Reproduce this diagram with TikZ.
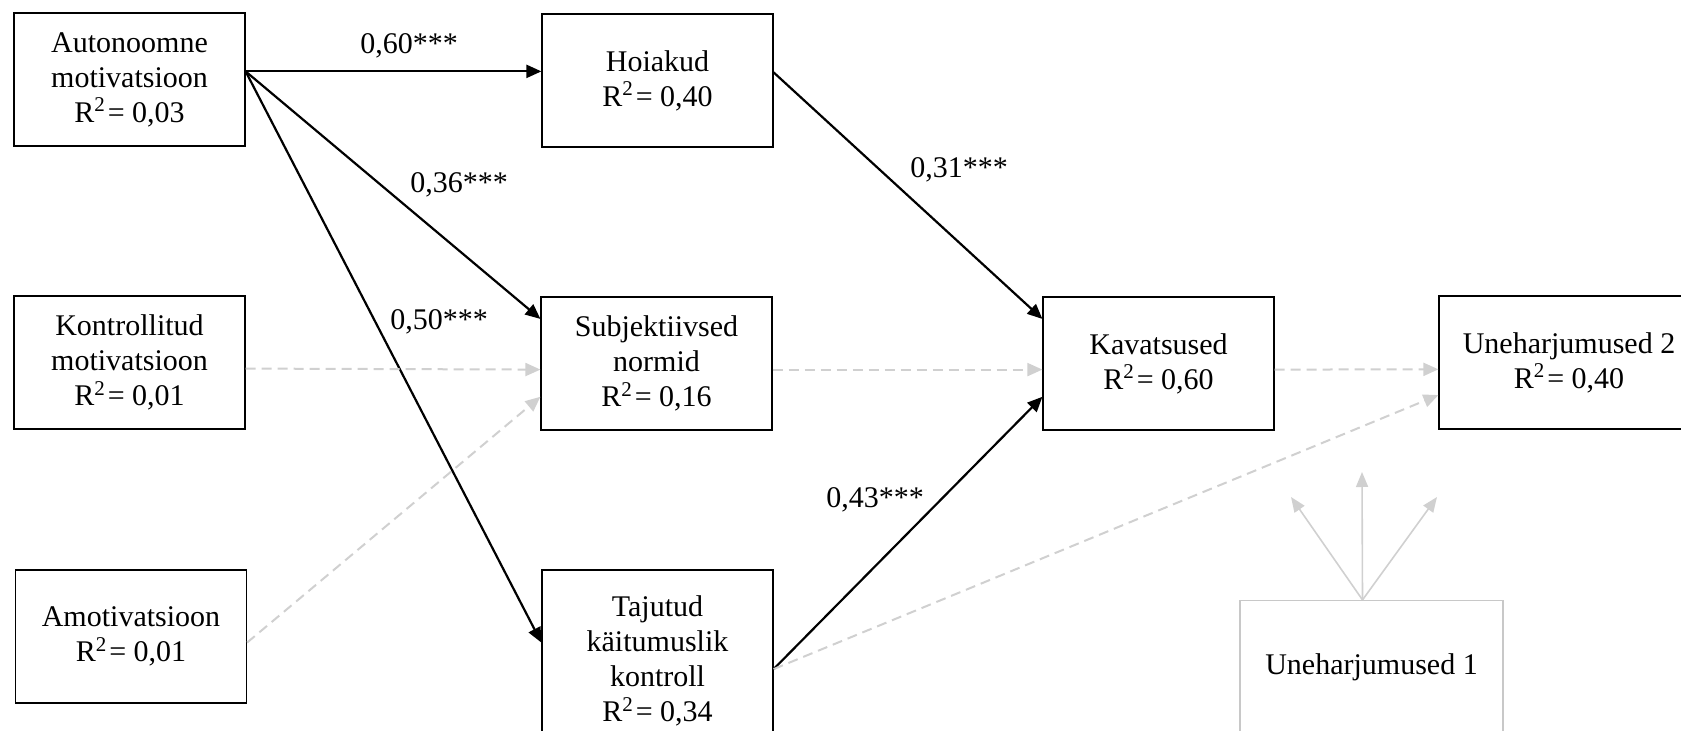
\documentclass[tikz,border=0pt]{standalone}
\usepackage{fontspec}
\setmainfont{Liberation Serif}
\usetikzlibrary{arrows.meta, calc}

\definecolor{nsgray}{RGB}{208,208,208}
\definecolor{boxgray}{RGB}{200,200,200}

\tikzset{
	box/.style={draw, line width=0.6pt, align=center, inner sep=0pt,
		minimum width=115.5pt, minimum height=66.5pt,
		font=\fontsize{15}{17.5}\selectfont},
	sig/.style={line width=1.1pt, -{Triangle[length=7.5pt,width=6.5pt]}},
	nonsig/.style={line width=1pt, nsgray, dash pattern=on 5pt off 3pt,
		-{Triangle[length=7.5pt,width=6.5pt]}},
	coef/.style={font=\fontsize{15}{17.5}\selectfont}
}

\newcommand{\rsq}[1]{R\textsuperscript{2}\kern1pt= #1}

\begin{document}
\begin{tikzpicture}[x=0.5pt, y=-0.5pt]
	
	\useasboundingbox (0,0) rectangle (1681,731);
	
	% Left column: motivation
	\node[box] (auto) at (129.5,79.5) {Autonoomne\\motivatsioon\\\rsq{0,03}};
	\node[box] (kon) at (129.5,362.5) {Kontrollitud\\motivatsioon\\\rsq{0,01}};
	\node[box] (amo) at (131,636.5) {Amotivatsioon\\\rsq{0,01}};
	
	% Middle column: TPB
	\node[box] (hoi) at (657.5,80.5) {Hoiakud\\\rsq{0,40}};
	\node[box] (subj) at (656.5,363.5) {Subjektiivsed\\normid\\\rsq{0,16}};
	\node[box, minimum height=91pt] (taj) at (657.5,661) {Tajutud\\käitumuslik\\kontroll\\\rsq{0,34}};
	
	% Right part
	\node[box] (kav) at (1158.5,363.5) {Kavatsused\\\rsq{0,60}};
	\node[box, minimum width=130pt] (une2) at (1569,362.5) {Uneharjumused 2\\\rsq{0,40}};
	\node[box, draw=boxgray, minimum width=131.5pt] (une1) at (1371.5,667) {Uneharjumused 1};
	
	% Significant paths
	\draw[sig] (auto.4) -- (auto.4 -| hoi.west);
	\draw[sig] (auto.4) -- (subj.159);
	\draw[sig] (auto.4) -- (taj.171);
	\draw[sig] (hoi.4) -- (kav.159);
	\draw[sig] (taj.-4) -- (kav.196);
	
	% Non-significant paths
	\draw[nonsig] (kon.-3) -- (subj.183);
	\draw[nonsig] (amo.-3) -- (subj.196);
	\draw[nonsig] (subj.-3) -- (kav.183);
	\draw[nonsig] (kav.-3) -- (une2.183);
	\draw[nonsig] (taj.-4) -- (une2.194);
	
	% Control: habits at time 1
	\coordinate (ctrl) at ($(une1.north)+(-9,0)$);
	\coordinate (c1) at (1291,497);
	\coordinate (c2) at (1362,472);
	\coordinate (c3) at (1437,497);
	\foreach \c in {c1,c2,c3}
		\draw[line width=0.8pt, nsgray, -{Triangle[length=7.5pt,width=6pt]}] (ctrl) -- (\c);
	
	% Coefficients
	\node[coef] (b1) at (409,46) {0,60***};
	\node[coef] (b2) at (459,185) {0,36***};
	\node[coef] (b3) at (439,322) {0,50***};
	\node[coef] (b4) at (959,170) {0,31***};
	\node[coef] (b5) at (875,500) {0,43***};
	
\end{tikzpicture}
\end{document}
